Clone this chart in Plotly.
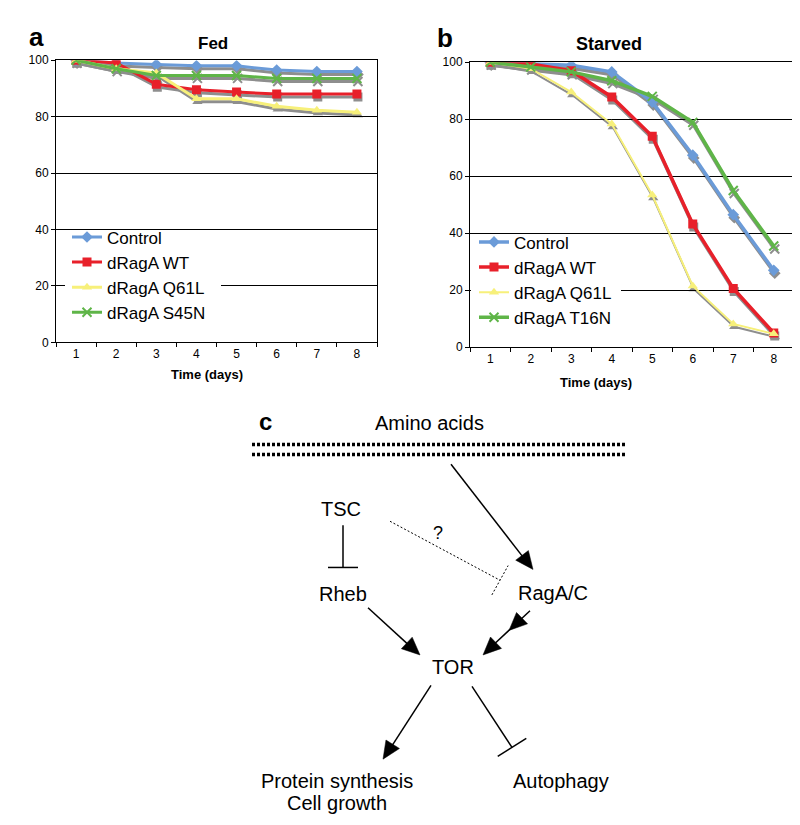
import plotly.graph_objects as go

W, H = 800, 825
FONT = "Liberation Sans, Arial, sans-serif"

# ---------------- data ----------------
days = ["1", "2", "3", "4", "5", "6", "7", "8"]

fed_series = ["Control", "dRagA WT", "dRagA Q61L", "dRagA S45N"]
fed_control = [100, 99, 98.5, 98, 98, 96.5, 96, 96]
fed_wt = [100, 99, 91.5, 89.5, 88.7, 88, 88, 88]
fed_q61l = [100, 97, 95.5, 86.3, 86.3, 83.7, 82.3, 81.6]
fed_s45n = [100, 97, 94.6, 94.6, 94.6, 93.5, 93.5, 93.5]

starved_series = ["Control", "dRagA WT", "dRagA Q61L", "dRagA T16N"]
starved_control = [100, 99.5, 98.9, 96.6, 86, 67.4, 46.5, 27]
starved_wt = [100, 99.4, 97, 87.8, 74, 43.2, 20.6, 5]
starved_q61l = [100, 97.7, 89.5, 78.3, 53.4, 21.5, 8.2, 4.7]
starved_t16n = [100, 98.3, 96.6, 93.5, 88, 78.9, 55, 35.5]

y_ticks = [0, 20, 40, 60, 80, 100]

colors = ["#6b9bd8", "#e8202a", "#f7f07a", "#5fb548"]
symbols = ["diamond", "square", "triangle-up", "x-thin"]
SHADOW = "#8e8e8e"


def px(x):
    return x / W


def py(y):
    return 1 - y / H


fig = go.Figure()


def add_panel(series_names, values, xa_sh, ya_sh, xa, ya, legend, widths):
    # shadow traces first (drawn in an earlier subplot, offset down a few px)
    for name, vals, sym, w in zip(series_names, values, symbols, widths):
        fig.add_trace(go.Scatter(
            x=days, y=vals, mode="lines+markers", xaxis=xa_sh, yaxis=ya_sh,
            line=dict(color=SHADOW, width=w),
            marker=dict(symbol=sym, size=9, color=SHADOW,
                        line=dict(color=SHADOW, width=2 if sym == "x-thin" else 0)),
            showlegend=False, hoverinfo="skip"))
    for name, vals, col, sym, w in zip(series_names, values, colors, symbols, widths):
        fig.add_trace(go.Scatter(
            x=days, y=vals, mode="lines+markers", name=name, xaxis=xa, yaxis=ya,
            legend=legend,
            line=dict(color=col, width=w),
            marker=dict(symbol=sym, size=9, color=col,
                        line=dict(color=col, width=2 if sym == "x-thin" else 0))))


add_panel(fed_series, [fed_control, fed_wt, fed_q61l, fed_s45n],
          "x", "y", "x2", "y2", "legend", [3, 3, 3, 3])
add_panel(starved_series, [starved_control, starved_wt, starved_q61l, starved_t16n],
          "x3", "y3", "x4", "y4", "legend2", [3.5, 3.5, 2, 3.5])

# ---------------- axes ----------------
def vis_x(l, r, t, b):
    return dict(domain=[px(l), px(r)], type="category", range=[-0.5, 7.5],
                showline=True, linecolor="black", linewidth=1, mirror=True,
                ticks="outside", tickson="boundaries", ticklen=4, tickcolor="black",
                showgrid=False, zeroline=False,
                tickfont=dict(family=FONT, size=12, color="black"), fixedrange=True)


def vis_y(t, b, anchor):
    return dict(domain=[py(b), py(t)], range=[0, 100], tickvals=y_ticks,
                showline=True, linecolor="black", linewidth=1, mirror=True,
                ticks="outside", ticklen=4, tickcolor="black",
                showgrid=True, gridcolor="black", gridwidth=1, zeroline=False,
                tickfont=dict(family=FONT, size=12, color="black"), anchor=anchor,
                fixedrange=True)


def sh_x(l, r):
    return dict(domain=[px(l), px(r)], type="category", range=[-0.5, 7.5],
                visible=False, fixedrange=True)


def sh_y(t, b, anchor):
    return dict(domain=[py(b), py(t)], range=[0, 100], visible=False,
                anchor=anchor, fixedrange=True)


A = dict(l=48, r=369, t=46, b=333)
B = dict(l=462, r=786, t=48, b=338)
DX, DY = 1, 3

fig.update_layout(
    xaxis=sh_x(A["l"] + DX, A["r"] + DX) | dict(anchor="y"),
    yaxis=sh_y(A["t"] + DY, A["b"] + DY, "x"),
    xaxis2=vis_x(A["l"], A["r"], A["t"], A["b"]) | dict(anchor="y2"),
    yaxis2=vis_y(A["t"], A["b"], "x2"),
    xaxis3=sh_x(B["l"] + DX, B["r"] + DX) | dict(anchor="y3"),
    yaxis3=sh_y(B["t"] + DY, B["b"] + DY, "x3"),
    xaxis4=vis_x(B["l"], B["r"], B["t"], B["b"]) | dict(anchor="y4"),
    yaxis4=vis_y(B["t"], B["b"], "x4"),
)

leg_common = dict(xanchor="left", yanchor="top", bgcolor="rgba(0,0,0,0)", borderwidth=0,
                  font=dict(family=FONT, size=17, color="black"),
                  itemwidth=30, tracegroupgap=0)
fig.update_layout(
    legend=dict(x=px(59), y=py(208), **leg_common),
    legend2=dict(x=px(466), y=py(213), **leg_common),
)

# ---------------- texts ----------------
annots = []


def text(x, y, s, size, bold=False, xanchor="center"):
    annots.append(dict(x=px(x), y=py(y), xref="paper", yref="paper", text=(f"<b>{s}</b>" if bold else s),
                       showarrow=False, xanchor=xanchor, yanchor="middle",
                       font=dict(family=FONT, size=size, color="black")))


text(28, 22, "a", 26, True)
text(437, 23, "b", 26, True)
text(205, 29, "Fed", 17, True)
text(601, 29, "Starved", 18, True)
text(199, 366, "Time (days)", 13, True)
text(588, 374, "Time (days)", 13, True)

# diagram labels
diagram_labels = [
    (257, 414, "c", 24, True),
    (421, 415, "Amino acids", 20, False),
    (333, 503, "TSC", 20, False),
    (430, 527, "?", 18, False),
    (335, 589, "Rheb", 20, False),
    (545, 588, "RagA/C", 20, False),
    (445, 663, "TOR", 20, False),
    (329, 779, "Protein synthesis", 20, False),
    (329, 802, "Cell growth", 20, False),
    (553, 779, "Autophagy", 20, False),
]
for x, y, s, sz, b in diagram_labels:
    text(x, y, s, sz, b)

fig.update_layout(annotations=annots)

# ---------------- shapes ----------------
shapes = []


def legend_bg(P, xa, ya, x0, x1, y0, y1):
    # white box behind the legend, between gridlines and traces (axis coords)
    def cx(p):
        return -0.5 + 8 * (p - P["l"]) / (P["r"] - P["l"])

    def cy(p):
        return 100 * (P["b"] - p) / (P["b"] - P["t"])

    shapes.append(dict(type="rect", xref=xa, yref=ya,
                       x0=cx(x0), x1=cx(x1), y0=cy(y1), y1=cy(y0),
                       fillcolor="white", line=dict(width=0), layer="between"))


legend_bg(A, "x2", "y2", 57, 213, 224, 326)
legend_bg(B, "x4", "y4", 463, 613, 229, 332)


def line(x0, y0, x1, y1, width=1.5, dash="solid"):
    shapes.append(dict(type="line", xref="paper", yref="paper",
                       x0=px(x0), y0=py(y0), x1=px(x1), y1=py(y1),
                       line=dict(color="black", width=width, dash=dash)))


def head(x0, y0, x1, y1, L=18, hw=8):
    # filled triangle with tip at (x1, y1), pointing from (x0, y0)
    import math
    dx, dy = x1 - x0, y1 - y0
    n = math.hypot(dx, dy)
    ux, uy = dx / n, dy / n
    bx, by = x1 - ux * L, y1 - uy * L
    nx, ny = -uy, ux
    pts = [(x1, y1), (bx + nx * hw, by + ny * hw), (bx - nx * hw, by - ny * hw)]
    path = "M " + " L ".join(f"{px(a):.5f},{py(b):.5f}" for a, b in pts) + " Z"
    shapes.append(dict(type="path", xref="paper", yref="paper", path=path,
                       fillcolor="black", line=dict(color="black", width=0.5)))


def tbar(x0, y0, x1, y1, half=15, width=1.5, dash="solid"):
    import math
    dx, dy = x1 - x0, y1 - y0
    n = math.hypot(dx, dy)
    nx, ny = -dy / n, dx / n
    line(x1 + nx * half, y1 + ny * half, x1 - nx * half, y1 - ny * half, width, dash)


# membrane (double dotted line)
line(244, 437, 618, 437, 3.5, "3px,2px")
line(244, 447, 618, 447, 3.5, "3px,2px")

# Amino acids -> RagA/C
line(443, 457, 517, 554)
head(443, 457, 525, 564)
# TSC -| Rheb
line(335, 519, 335, 562)
tbar(335, 519, 335, 562)
# TSC ...| RagA/C
line(382, 515, 492, 575, 1, "2px,2px")
tbar(382, 515, 492, 575, 17, 1, "2px,2px")
# Rheb -> TOR
line(360, 603, 403, 643)
head(360, 603, 412, 651)
# RagA/C -> TOR (double head)
line(522, 606, 482, 644)
head(522, 606, 501, 626)
head(522, 606, 475, 651)
# TOR -> Protein synthesis
line(423, 682, 381, 748)
head(423, 682, 375, 757)
# TOR -| Autophagy
line(464, 683, 504, 745)
tbar(464, 683, 504, 745, 17)

fig.update_layout(shapes=shapes)

fig.update_layout(width=W, height=H, margin=dict(l=0, r=0, t=0, b=0),
                  paper_bgcolor="white", plot_bgcolor="rgba(0,0,0,0)",
                  font=dict(family=FONT, color="black"))

fig.write_html("out.html")
